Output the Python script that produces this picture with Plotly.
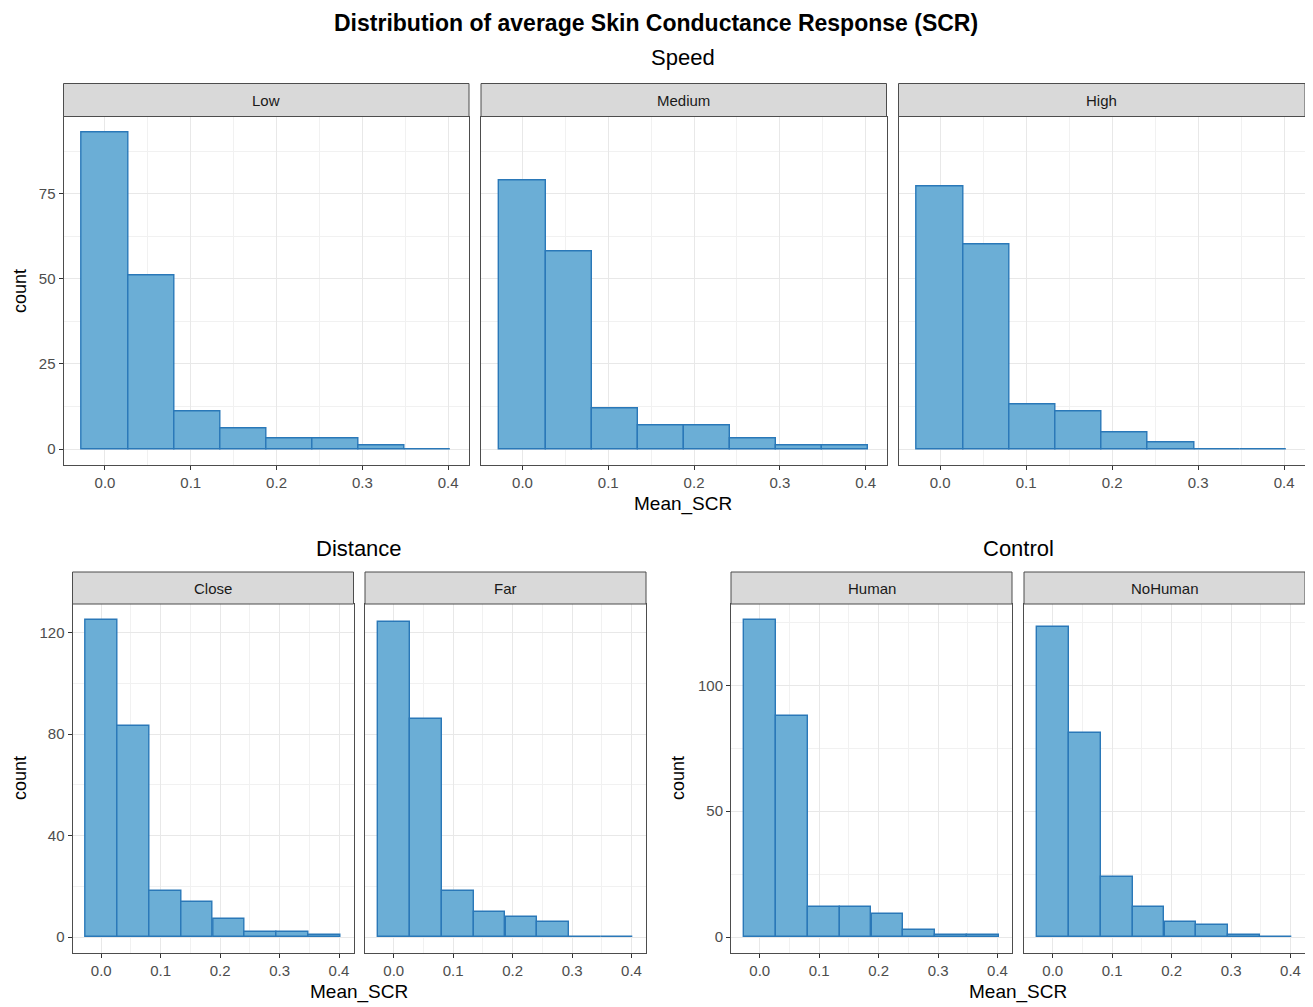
import plotly.graph_objects as go

# ---------------- data ----------------
BIN_CENTERS = [0.0, 0.0537, 0.1074, 0.1611, 0.2149, 0.2686, 0.3223, 0.376]
BIN_WIDTH = 0.0537

speed_labels = ["Low", "Medium", "High"]
speed_low = [93, 51, 11, 6, 3, 3, 1, 0]
speed_medium = [79, 58, 12, 7, 7, 3, 1, 1]
speed_high = [77, 60, 13, 11, 5, 2, 0, 0]

distance_labels = ["Close", "Far"]
distance_close = [125, 83, 18, 14, 7, 2, 2, 1]
distance_far = [124, 86, 18, 10, 8, 6, 0, 0]

control_labels = ["Human", "NoHuman"]
control_human = [126, 88, 12, 12, 9, 3, 1, 1]
control_nohuman = [123, 81, 24, 12, 6, 5, 1, 0]

x_ticks = [0.0, 0.1, 0.2, 0.3, 0.4]
x_ticklabels = ["0.0", "0.1", "0.2", "0.3", "0.4"]
speed_yticks = [0, 25, 50, 75]
distance_yticks = [0, 40, 80, 120]
control_yticks = [0, 50, 100]

title = "Distribution of average Skin Conductance Response (SCR)"
group_titles = ["Speed", "Distance", "Control"]
x_title = "Mean_SCR"
y_title = "count"

# ---------------- style ----------------
PAGE_W, PAGE_H = 1313, 1007
OFF = 8  # default page body margin
W, H = PAGE_W - OFF, PAGE_H - OFF
FILL = "#6baed6"
EDGE = "#2a78b8"
GRID = "#e8e8e8"
BORDER = "#4d4d4d"
FONT = "Liberation Sans, Arial, sans-serif"
TICKFONT = dict(family=FONT, size=15, color="#4d4d4d")

def px_x(v):
    return (v - OFF) / W

def px_y(v):
    return 1 - (v - OFF) / H

# panel pixel boxes (page coordinates): (x0, x1, y_top, y_bottom, strip_top)
panels = [
    ("Low", speed_low, (63.5, 469, 116.5, 465, 83.5), speed_yticks, True),
    ("Medium", speed_medium, (481, 886.5, 116.5, 465, 83.5), speed_yticks, False),
    ("High", speed_high, (898.5, 1305, 116.5, 465, 83.5), speed_yticks, False),
    ("Close", distance_close, (72.5, 353.5, 604, 953, 572), distance_yticks, True),
    ("Far", distance_far, (365, 646, 604, 953, 572), distance_yticks, False),
    ("Human", control_human, (731, 1012, 604, 953, 572), control_yticks, True),
    ("NoHuman", control_nohuman, (1024, 1305, 604, 953, 572), control_yticks, False),
]

group_of = {"Low": 0, "Medium": 0, "High": 0, "Close": 1, "Far": 1, "Human": 2, "NoHuman": 2}
group_max = {
    0: max(speed_low + speed_medium + speed_high),
    1: max(distance_close + distance_far),
    2: max(control_human + control_nohuman),
}

fig = go.Figure()
shapes = []
annotations = []

xlo = BIN_CENTERS[0] - BIN_WIDTH / 2
xhi = BIN_CENTERS[-1] + BIN_WIDTH / 2
xpad = (xhi - xlo) * 0.05
x_range = [xlo - xpad, xhi + xpad]

for i, (name, counts, box, yticks, show_y) in enumerate(panels):
    idx = i + 1
    xa = "x" if idx == 1 else f"x{idx}"
    ya = "y" if idx == 1 else f"y{idx}"
    x0, x1, yt, yb, st = box
    fig.add_trace(go.Bar(
        x=BIN_CENTERS, y=counts, width=BIN_WIDTH,
        marker=dict(color=FILL, line=dict(color=EDGE, width=1.4)),
        xaxis=xa, yaxis=ya, showlegend=False,
    ))
    gmax = group_max[group_of[name]]
    ypad = gmax * 0.05
    axis_common = dict(showline=True, linecolor=BORDER, linewidth=1, mirror=True,
                       zeroline=False, gridcolor=GRID, gridwidth=1.1,
                       ticks="outside", tickcolor="#333333",
                       tickfont=TICKFONT)
    xkey = "xaxis" if idx == 1 else f"xaxis{idx}"
    ykey = "yaxis" if idx == 1 else f"yaxis{idx}"
    yminor = [(yticks[k] + yticks[k + 1]) / 2 for k in range(len(yticks) - 1)]
    yminor.append(yticks[-1] + (yticks[1] - yticks[0]) / 2)
    fig.update_layout(**{
        xkey: dict(domain=[px_x(x0), px_x(x1)], anchor=ya, range=x_range,
                   tickvals=x_ticks, ticktext=x_ticklabels, ticklen=4,
                   minor=dict(tickvals=[0.05, 0.15, 0.25, 0.35], showgrid=True,
                              gridcolor="#f1f1f1", gridwidth=0.7, ticks=""),
                   **axis_common),
        ykey: dict(domain=[px_y(yb), px_y(yt)], anchor=xa, range=[-ypad, gmax + ypad],
                   tickvals=yticks,
                   ticktext=[str(t) for t in yticks] if show_y else ["" for _ in yticks],
                   ticklen=4 if show_y else 0,
                   minor=dict(tickvals=yminor, showgrid=True,
                              gridcolor="#f1f1f1", gridwidth=0.7, ticks=""),
                   **axis_common),
    })
    # strip
    shapes.append(dict(type="rect", xref="paper", yref="paper",
                       x0=px_x(x0), x1=px_x(x1), y0=px_y(yt), y1=px_y(st),
                       fillcolor="#d9d9d9", line=dict(color=BORDER, width=1), layer="above"))
    annotations.append(dict(text=name, xref="paper", yref="paper",
                            x=px_x((x0 + x1) / 2), y=px_y((yt + st) / 2),
                            showarrow=False, xanchor="center", yanchor="middle",
                            font=dict(family=FONT, size=15, color="#1a1a1a")))

# titles
annotations.append(dict(text=f"<b>{title}</b>", xref="paper", yref="paper",
                        x=px_x(656), y=px_y(23), showarrow=False, xanchor="center", yanchor="middle",
                        font=dict(family=FONT, size=23, color="black")))
for t, cx, cy in [(group_titles[0], 683, 58), (group_titles[1], 359, 548), (group_titles[2], 1018, 548)]:
    annotations.append(dict(text=t, xref="paper", yref="paper", x=px_x(cx), y=px_y(cy),
                            showarrow=False, xanchor="center", yanchor="middle",
                            font=dict(family=FONT, size=22, color="black")))
for cx, cy in [(683, 504), (359, 992), (1018, 992)]:
    annotations.append(dict(text=x_title, xref="paper", yref="paper", x=px_x(cx), y=px_y(cy),
                            showarrow=False, xanchor="center", yanchor="middle",
                            font=dict(family=FONT, size=19, color="black")))
for cx, cy in [(20, 291), (20, 778), (678, 778)]:
    annotations.append(dict(text=y_title, xref="paper", yref="paper", x=px_x(cx), y=px_y(cy),
                            showarrow=False, xanchor="center", yanchor="middle", textangle=-90,
                            font=dict(family=FONT, size=18, color="black")))

fig.update_layout(
    width=W, height=H, margin=dict(l=0, r=0, t=0, b=0),
    paper_bgcolor="white", plot_bgcolor="white",
    bargap=0, shapes=shapes, annotations=annotations,
)

fig.write_html("out.html")
